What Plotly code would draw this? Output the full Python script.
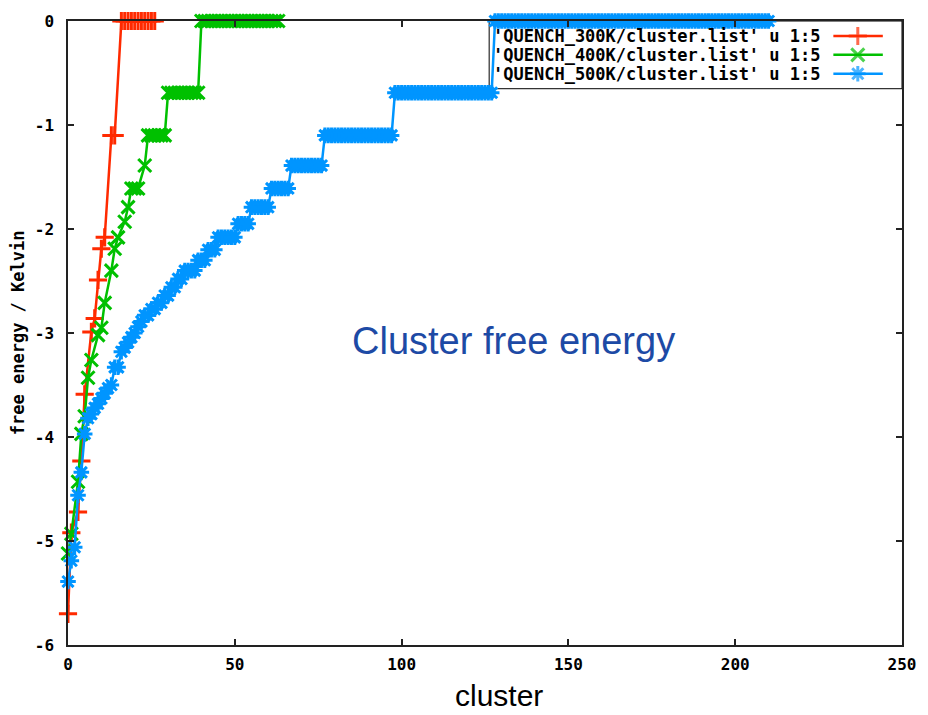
import plotly.graph_objects as go

# ---------------- data ----------------
series_names = [
    "'QUENCH_300K/cluster.list' u 1:5",
    "'QUENCH_400K/cluster.list' u 1:5",
    "'QUENCH_500K/cluster.list' u 1:5",
]

# 300 K
red_x = [0, 1, 3, 4, 5, 7, 8, 9, 10, 11, 13, 14,
         16, 17, 18, 19, 20, 21, 22, 23, 24, 25, 26]
red_y = [-5.70, -4.92, -4.72, -4.23, -3.59, -2.99, -2.86, -2.49, -2.19, -2.08, -1.10, -1.10,
         0, 0, 0, 0, 0, 0, 0, 0, 0, 0, 0]

# 400 K
green_x = [0, 1, 3, 4, 5, 6, 7, 9, 10, 11, 13, 14, 15, 17, 18, 19, 20, 21, 23,
           24, 25, 26, 27, 28, 29,
           30, 31, 32, 33, 34, 35, 36, 37, 38, 39,
           40, 41, 42, 43, 44, 45, 46, 47, 48, 49, 50, 51, 52, 53, 54, 55, 56, 57,
           58, 59, 60, 61, 62, 63]
green_y = [-5.12, -4.93, -4.43, -3.97, -3.80, -3.43, -3.26, -3.02, -2.95, -2.71, -2.40,
           -2.19, -2.08, -1.93, -1.79, -1.61, -1.61, -1.61, -1.39,
           -1.10, -1.10, -1.10, -1.10, -1.10, -1.10,
           -0.69, -0.69, -0.69, -0.69, -0.69, -0.69, -0.69, -0.69, -0.69, -0.69,
           0, 0, 0, 0, 0, 0, 0, 0, 0, 0, 0, 0, 0, 0, 0, 0, 0, 0, 0, 0, 0, 0, 0, 0]

# 500 K : free-energy levels and how many consecutive clusters sit on each level
blue_levels = [-5.39, -5.19, -5.06, -4.56, -4.34, -3.97, -3.82, -3.78, -3.72, -3.68,
               -3.63, -3.58, -3.53, -3.50, -3.33, -3.18, -3.14, -3.09, -3.04, -3.00,
               -2.94, -2.89, -2.83, -2.77, -2.71, -2.64, -2.56, -2.48, -2.40, -2.30,
               -2.20, -2.08, -1.95, -1.79, -1.61, -1.39, -1.10, -0.69, 0.00]
blue_counts = [1, 1, 1, 1, 1, 1, 1, 1, 1, 1,
               1, 1, 1, 1, 2, 1, 1, 1, 1, 1,
               1, 1, 2, 2, 2, 2, 2, 2, 4, 3,
               3, 6, 4, 6, 6, 10, 21, 30, 83]

blue_y = []
for lvl, cnt in zip(blue_levels, blue_counts):
    blue_y.extend([lvl] * cnt)
blue_x = list(range(len(blue_y)))

x_ticks = [0, 50, 100, 150, 200, 250]
y_ticks = [0, -1, -2, -3, -4, -5, -6]
y_tick_text = ["0", "-1", "-2", "-3", "-4", "-5", "-6"]

# ---------------- styling ----------------
colors = ["#ff2a00", "#00c000", "#0095ff"]
symbols = ["cross-thin", "x-thin", "asterisk"]
mono = "DejaVu Sans Mono"

fig = go.Figure()
for xs, ys, c, s, n in zip([red_x, green_x, blue_x], [red_y, green_y, blue_y],
                           colors, symbols, series_names):
    fig.add_trace(go.Scatter(
        x=xs, y=ys, mode="lines+markers", name=n, showlegend=False,
        line=dict(color=c, width=2.5),
        marker=dict(symbol=s, size=13, color=c, line=dict(color=c, width=3)),
        cliponaxis=False,
    ))

# custom gnuplot-style key (text left, sample right)
row_y = [0.976, 0.9458, 0.9155]
for n, c, s, ry in zip(series_names, colors, symbols, row_y):
    fig.add_annotation(text=n, xref="paper", yref="paper", x=0.9057, y=ry,
                       xanchor="right", yanchor="middle", showarrow=False,
                       font=dict(family=mono, size=17, color="black", weight="bold"))
    fig.add_trace(go.Scatter(
        x=[0.9177, 0.947, 0.977], y=[ry, ry, ry], xaxis="x2", yaxis="y2",
        mode="lines+markers", showlegend=False, hoverinfo="skip",
        line=dict(color=c, width=2.5),
        marker=dict(symbol=s, size=[0, 13, 0], color=c, line=dict(color=c, width=3)),
        cliponaxis=False,
    ))

fig.add_shape(type="rect", xref="paper", yref="paper", x0=0.505, x1=1.0, y0=0.8915, y1=1.0,
              line=dict(color="black", width=1), layer="below")

axis_common = dict(showline=True, linecolor="#222222", linewidth=1.5, mirror="ticks",
                   ticks="inside", ticklen=6, tickwidth=1.5, tickcolor="#222222",
                   showgrid=False, zeroline=False,
                   tickfont=dict(family=mono, size=16, color="black", weight="bold"))

fig.update_layout(
    width=928, height=715,
    margin=dict(l=68, r=22, t=18, b=70),
    paper_bgcolor="white", plot_bgcolor="white",
    xaxis=dict(range=[0, 250], tickvals=x_ticks, ticklabelstandoff=4, **axis_common),
    yaxis=dict(range=[-6, 0], tickvals=y_ticks, ticktext=y_tick_text,
               ticklabelstandoff=9, **axis_common),
    xaxis2=dict(overlaying="x", range=[0, 1], visible=False, fixedrange=True),
    yaxis2=dict(overlaying="y", range=[0, 1], visible=False, fixedrange=True),
    showlegend=False,
)

fig.add_annotation(text="free energy / Kelvin", xref="paper", yref="paper",
                   x=-0.0597, y=0.5, textangle=-90, showarrow=False,
                   xanchor="center", yanchor="middle",
                   font=dict(family=mono, size=17, color="black", weight="bold"))
fig.add_annotation(text="cluster", xref="paper", yref="paper",
                   x=0.5167, y=-0.081, showarrow=False, xanchor="center", yanchor="middle",
                   font=dict(family="Liberation Sans", size=30, color="black"))
fig.add_annotation(text="Cluster free energy", xref="paper", yref="paper",
                   x=0.5346, y=0.4864, showarrow=False, xanchor="center", yanchor="middle",
                   font=dict(family="Liberation Sans", size=38, color="#1d4aa5"))

fig.write_html("out.html")
